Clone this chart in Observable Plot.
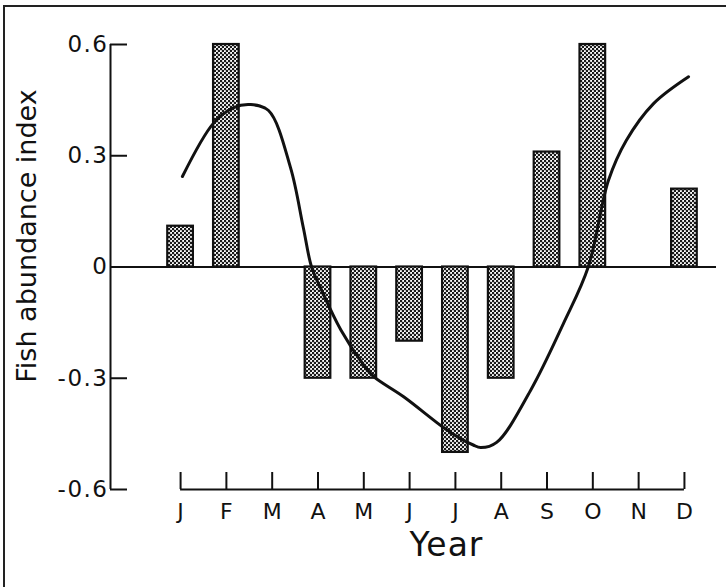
<!DOCTYPE html>
<html><head><meta charset="utf-8">
<script src="https://cdn.jsdelivr.net/npm/d3@7"></script>
<script src="https://cdn.jsdelivr.net/npm/@observablehq/plot@0.6"></script>
<style>
html,body{margin:0;padding:0;background:#fff;}
#wrap{position:relative;width:726px;height:587px;overflow:hidden;}
#wrap svg{display:block;}
#border{position:absolute;left:3px;top:5px;right:-10px;bottom:-10px;border-top:2px solid #222;border-left:2px solid #222;pointer-events:none;}
</style></head><body>
<div id="wrap"><div id="border"></div></div>
<script>
// Month categories (x axis tick labels)
const months = ["J","F","M","A","M","J","J","A","S","O","N","D"];
// Bar values per month (null = no bar)
const barValues = [0.11, 0.6, null, -0.3, -0.3, -0.2, -0.5, -0.3, 0.31, 0.6, null, 0.21];
// Smooth curve, x in month units (0 = J), y = index value
const curveX = [0.04, 0.72, 1.16, 1.53, 1.92, 2.40, 2.68, 2.86, 3.08, 3.5, 4.0, 4.21, 4.87, 5.74, 6.1, 6.39, 6.55, 6.9, 7.64, 8.36, 8.9, 9.34, 9.73, 10.32, 11.09];
const curveY = [0.244, 0.388, 0.43, 0.438, 0.422, 0.268, 0.106, 0.0, -0.063, -0.17, -0.265, -0.295, -0.35, -0.433, -0.462, -0.48, -0.487, -0.473, -0.333, -0.152, 0.0, 0.233, 0.341, 0.44, 0.513];
// Y axis ticks
const yTicks = [-0.6, -0.3, 0, 0.3, 0.6];
const yTickLabels = ["-0.6", "-0.3", "0", "0.3", "0.6"];

const bars = months.map((m, i) => ({i, m, v: barValues[i]})).filter(d => d.v !== null);
const curve = curveX.map((x, k) => ({x, y: curveY[k]}));
const monthIdx = d3.range(months.length);

const xMin = -1.53, xMax = 11.7, half = 0.28;

const chart = Plot.plot({
  width: 726, height: 587,
  marginLeft: 110, marginRight: 10, marginTop: 44, marginBottom: 98,
  x: {domain: [xMin, xMax], axis: null},
  y: {domain: [-0.6, 0.6], axis: null},
  style: {fontFamily: "DejaVu Sans", color: "#111", background: "white", overflow: "visible"},
  marks: [
    Plot.ruleY([0], {stroke: "#111", strokeWidth: 2}),
    Plot.rect(bars, {x1: d => d.i - half, x2: d => d.i + half, y1: () => 0, y2: "v", fill: "url(#stipple)", stroke: "#111", strokeWidth: 2.2}),
    Plot.ruleX([xMin], {y1: -0.6, y2: 0.6, stroke: "#111", strokeWidth: 2}),
    Plot.ruleY([-0.6], {x1: 0, x2: months.length - 1, stroke: "#111", strokeWidth: 2}),
    Plot.line(curve, {x: "x", y: "y", curve: "catmull-rom", stroke: "#111", strokeWidth: 3}),
    // tick marks (inward)
    Plot.axisY({ticks: yTicks, tickFormat: () => "", tickSize: -17, label: null, strokeWidth: 2}),
    Plot.axisX({ticks: monthIdx, tickFormat: () => "", tickSize: -17, label: null, strokeWidth: 2}),
    // tick labels
    Plot.text(yTicks, {x: () => xMin, y: d => d, text: d => yTickLabels[yTicks.indexOf(d)], textAnchor: "end", dx: -2, fontSize: 23, fill: "#111"}),
    Plot.text(monthIdx, {x: d => d, y: () => -0.6, text: d => months[d], lineAnchor: "top", dy: 14, fontSize: 22, fill: "#111"}),
    // axis titles
    Plot.text(["Fish abundance index"], {frameAnchor: "left", textAnchor: "middle", rotate: -90, dx: -83, dy: -31, fontSize: 27, fill: "#111"}),
    Plot.text(["Year"], {frameAnchor: "bottom", textAnchor: "middle", dx: 33, dy: 66, fontSize: 33, fill: "#111"})
  ]
});

// slightly wider spacing on y tick labels, like the reference lettering
chart.querySelectorAll("text").forEach(t => {
  if (yTickLabels.includes(t.textContent)) t.style.letterSpacing = "1.5px";
  if (t.textContent === "Year") t.style.letterSpacing = "1px";
});

const ns = "http://www.w3.org/2000/svg";
const defs = document.createElementNS(ns, "defs");
defs.innerHTML = '<pattern id="stipple" width="4" height="4" patternUnits="userSpaceOnUse"><rect width="4" height="4" fill="#fff"/><circle cx="1" cy="1" r="1.3" fill="#1a1a1a"/><circle cx="3" cy="3" r="1.3" fill="#1a1a1a"/></pattern>';
chart.prepend(defs);
document.getElementById("wrap").prepend(chart);
</script>
</body></html>
